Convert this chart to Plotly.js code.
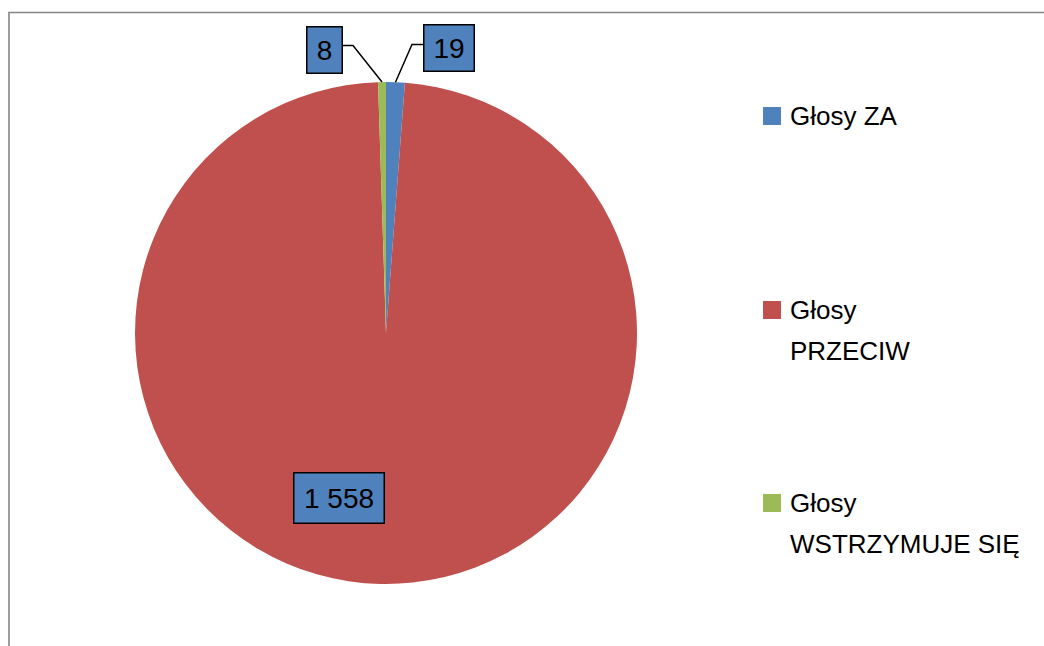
<!DOCTYPE html>
<html>
<head>
<meta charset="utf-8">
<script src="https://cdn.plot.ly/plotly-3.0.1.min.js"></script>
<style>html,body{margin:0;padding:0;background:#fff;}#chart{width:1044px;height:646px;}</style>
</head>
<body>
<div id="chart"></div>
<script>
const labels = ['Głosy ZA', 'Głosy PRZECIW', 'Głosy WSTRZYMUJE SIĘ'];
const values = [19, 1558, 8];
const valueText = ['19', '1 558', '8'];
const legendLines = [['Głosy ZA'], ['Głosy', 'PRZECIW'], ['Głosy', 'WSTRZYMUJE SIĘ']];
const colors = ['#4F81BD', '#C0504D', '#9BBB59'];

const W = 1044, H = 646;
const cx = 386, cy = 333, R = 251;
const px = x => x / W;
const py = y => 1 - y / H;

// label box placement (pixels) and side of leader line
const labelBoxes = [
  {x: 448.5, y: 48.5, w: 49, h: 45, side: 'left'},
  {x: 338.5, y: 497.5, w: 89, h: 49, side: null},
  {x: 324, y: 49.5, w: 34, h: 45, side: 'right'}
];

const total = values.reduce((a, b) => a + b, 0);
let cum = 0;
const mids = values.map(v => { const m = (cum + v / 2) / total * 2 * Math.PI; cum += v; return m; });

const annotations = [];
const shapes = [];

// outer frame
shapes.push({type: 'rect', xref: 'paper', yref: 'paper', x0: px(9), x1: 1.05, y0: -0.05, y1: py(12.5),
  line: {color: '#868686', width: 1.6}, fillcolor: 'rgba(0,0,0,0)', layer: 'below'});

valueText.forEach((t, i) => {
  const b = labelBoxes[i];
  annotations.push({xref: 'paper', yref: 'paper', x: px(b.x), y: py(b.y), xanchor: 'center', yanchor: 'middle',
    text: t, showarrow: false, bgcolor: colors[0], bordercolor: '#000', borderwidth: 1.5, borderpad: 0,
    width: b.w, height: b.h, align: 'center', valign: 'middle',
    font: {family: 'Liberation Sans, Arial, sans-serif', size: 28, color: '#000'}});
  if (b.side) {
    const tx = cx + R * Math.sin(mids[i]);
    const ty = cy - R * Math.cos(mids[i]);
    const ex = b.side === 'left' ? b.x - b.w / 2 - 1 : b.x + b.w / 2 + 1;
    const kx = b.side === 'left' ? ex - 11 : ex + 11;
    const ey = b.y - 4;
    shapes.push({type: 'path', xref: 'paper', yref: 'paper',
      path: `M ${px(ex)} ${py(ey)} L ${px(kx)} ${py(ey)} L ${px(tx)} ${py(ty)}`,
      line: {color: '#000', width: 1.5}});
  }
});

// legend
const legendY = [[116], [310, 351], [503, 544]];
legendLines.forEach((lines, i) => {
  const sy = legendY[i][0];
  shapes.push({type: 'rect', xref: 'paper', yref: 'paper', x0: px(763), x1: px(781), y0: py(sy + 9), y1: py(sy - 9),
    fillcolor: colors[i], line: {width: 0}});
  lines.forEach((ln, j) => {
    annotations.push({xref: 'paper', yref: 'paper', x: px(788), y: py(legendY[i][j]), xanchor: 'left', yanchor: 'middle',
      text: ln, showarrow: false,
      font: {family: 'Liberation Sans, Arial, sans-serif', size: 26, color: '#000'}});
  });
});

const data = [{
  type: 'pie',
  labels: labels,
  values: values,
  sort: false,
  direction: 'clockwise',
  rotation: 0,
  textinfo: 'none',
  marker: {colors: colors, line: {width: 0}},
  domain: {x: [px(cx - R), px(cx + R)], y: [py(cy + R), py(cy - R)]},
  showlegend: false
}];

const layout = {
  width: W, height: H,
  margin: {l: 0, r: 0, t: 0, b: 0},
  paper_bgcolor: '#fff',
  showlegend: false,
  annotations: annotations,
  shapes: shapes
};

Plotly.newPlot('chart', data, layout, {displayModeBar: false, staticPlot: true});
</script>
</body>
</html>
